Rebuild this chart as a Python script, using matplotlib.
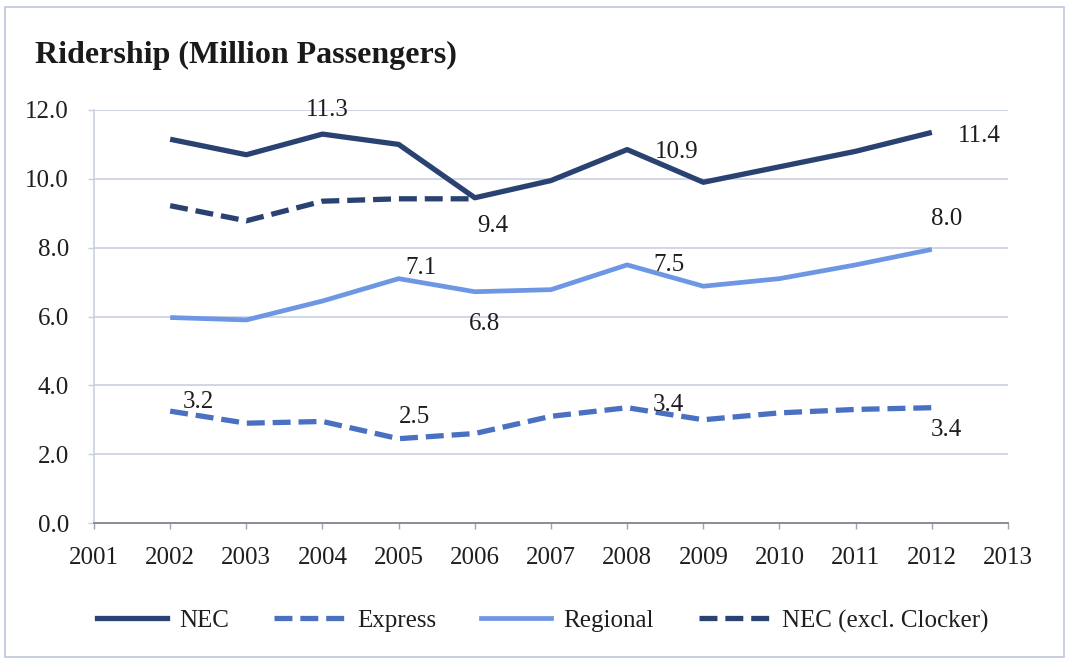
import matplotlib

matplotlib.use("Agg")
import matplotlib.pyplot as plt
from matplotlib.lines import Line2D
from matplotlib.patches import Rectangle

plt.rcParams["font.family"] = ["Liberation Serif", "DejaVu Serif"]

YEARS = [2002, 2003, 2004, 2005, 2006, 2007, 2008, 2009, 2010, 2011, 2012]
NEC = [11.15, 10.7, 11.3, 11.0, 9.45, 9.95, 10.85, 9.9, 10.35, 10.8, 11.35]
EXPRESS = [3.25, 2.9, 2.95, 2.45, 2.6, 3.1, 3.35, 3.0, 3.2, 3.3, 3.35]
REGIONAL = [5.97, 5.9, 6.45, 7.1, 6.72, 6.78, 7.5, 6.88, 7.1, 7.5, 7.95]
NEC_EXCL_YEARS = [2002, 2003, 2004, 2005, 2006]
NEC_EXCL = [9.22, 8.78, 9.35, 9.42, 9.42]
X_TICKS = list(range(2001, 2014))
Y_TICKS = [0, 2, 4, 6, 8, 10, 12]

# (year, label, pixel offset, horizontal alignment)
NEC_LABELS = [(2004, "11.3", (5, 24), "center"), (2006, "9.4", (18, -28), "center"),
              (2008, "10.9", (28, -2), "left"), (2012, "11.4", (26, -4), "left")]
REGIONAL_LABELS = [(2005, "7.1", (22, 11), "center"), (2006, "6.8", (10, -32), "center"),
                   (2008, "7.5", (26, 0), "left"), (2012, "8.0", (15, 30), "center")]
EXPRESS_LABELS = [(2002, "3.2", (13, 9), "left"), (2005, "2.5", (16, 22), "center"),
                  (2008, "3.4", (26, 3), "left"), (2012, "3.4", (15, -22), "center")]

NEC_COLOR = "#2a4272"
EXPRESS_COLOR = "#4a70c2"
REGIONAL_COLOR = "#6d97e4"
GRID_COLOR = "#c9cfe2"
FONT_SIZE = 18

fig = plt.figure(figsize=(10.68, 6.6), dpi=100)
ax = fig.add_axes([94 / 1068, 1 - 523 / 660, (1008 - 94) / 1068, (523 - 110) / 660])

lw = 3.8
ax.plot(YEARS, NEC, color=NEC_COLOR, linewidth=lw, solid_capstyle="butt", zorder=3)
ax.plot(YEARS, EXPRESS, color=EXPRESS_COLOR, linewidth=lw, dashes=(3.4, 1.5), zorder=3)
ax.plot(YEARS, REGIONAL, color=REGIONAL_COLOR, linewidth=3.4, solid_capstyle="butt", zorder=3)
ax.plot(NEC_EXCL_YEARS, NEC_EXCL, color=NEC_COLOR, linewidth=lw, dashes=(3.4, 1.5), zorder=3)


def label_points(years, values, labels):
    for year, text, offset, ha in labels:
        value = values[years.index(year)]
        ax.annotate(text, (year, value), xytext=offset, textcoords="offset pixels",
                    ha=ha, va="center", fontsize=FONT_SIZE, color="#1e1e1e", zorder=4)


label_points(YEARS, NEC, NEC_LABELS)
label_points(YEARS, REGIONAL, REGIONAL_LABELS)
label_points(YEARS, EXPRESS, EXPRESS_LABELS)

ax.set_xlim(2001, 2013)
ax.set_ylim(0, 12)
ax.set_xticks(X_TICKS)
ax.set_xticklabels([str(y) for y in X_TICKS])
ax.set_yticks(Y_TICKS)
ax.set_yticklabels([f"{v:.1f}" for v in Y_TICKS])
ax.grid(axis="y", color=GRID_COLOR, linewidth=1.2, zorder=0)
for side in ["top", "right"]:
    ax.spines[side].set_visible(False)
ax.spines["left"].set_color(GRID_COLOR)
ax.spines["left"].set_linewidth(1.2)
ax.spines["bottom"].set_color("#8a8d96")
ax.spines["bottom"].set_linewidth(1.4)
ax.tick_params(axis="x", length=4, width=1, color="#a0a3ad", pad=13, labelsize=FONT_SIZE, labelcolor="#1e1e1e")
ax.tick_params(axis="y", length=4, width=1, color=GRID_COLOR, pad=14, labelsize=FONT_SIZE, labelcolor="#1e1e1e")
ax.set_axisbelow(True)

fig.text(35 / 1068, 1 - 55 / 660, "Ridership (Million Passengers)", fontsize=23,
         fontweight="bold", ha="left", va="center", color="#1a1a1a")

legend_elements = [
    Line2D([0], [0], color=NEC_COLOR, linewidth=lw, label="NEC"),
    Line2D([0], [0], color=EXPRESS_COLOR, linewidth=lw, dashes=(3.4, 1.5), label="Express"),
    Line2D([0], [0], color=REGIONAL_COLOR, linewidth=3.4, label="Regional"),
    Line2D([0], [0], color=NEC_COLOR, linewidth=lw, dashes=(3.4, 1.5), label="NEC (excl. Clocker)"),
]
fig.legend(handles=legend_elements, loc="center", ncol=4, frameon=False, fontsize=FONT_SIZE,
           bbox_to_anchor=(0.508, 1 - 621 / 660), handlelength=2.8, handletextpad=0.5,
           columnspacing=1.8, labelcolor="#1e1e1e")

fig.patches.append(Rectangle((5 / 1068, 3 / 660), 1059 / 1068, 650 / 660, transform=fig.transFigure,
                             fill=False, edgecolor="#bcc6da", linewidth=1.2))

fig.savefig("out.png", dpi=100)
